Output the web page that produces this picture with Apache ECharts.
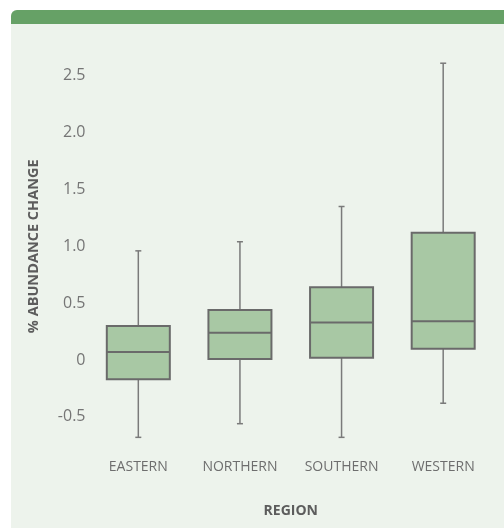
<!DOCTYPE html>
<html>
<head>
<meta charset="utf-8">
<script src="https://cdn.jsdelivr.net/npm/echarts@6/dist/echarts.min.js"></script>
<style>
  html, body { margin: 0; padding: 0; background: #ffffff; }
  #chart { width: 504px; height: 528px; }
</style>
</head>
<body>
<div id="chart"></div>
<script>
// Five-number summaries of abundance change per region
const regions = ['EASTERN', 'NORTHERN', 'SOUTHERN', 'WESTERN'];
const whiskerLow  = [-0.68, -0.56, -0.68, -0.38];
const quartile1   = [-0.17,  0.01,  0.02,  0.10];
const medians     = [ 0.07,  0.24,  0.33,  0.34];
const quartile3   = [ 0.30,  0.44,  0.64,  1.12];
const whiskerHigh = [ 0.96,  1.04,  1.35,  2.61];

const boxData = regions.map((r, i) => [i, whiskerLow[i], quartile1[i], medians[i], quartile3[i], whiskerHigh[i]]);

const chart = echarts.init(document.getElementById('chart'));

function renderBox(params, api) {
  const idx = api.value(0);
  const band = api.size([1, 0])[0];
  const half = band * 0.31;
  const cx = api.coord([idx, 0])[0];
  const y = (k) => api.coord([idx, api.value(k)])[1];
  const yLow = y(1), yQ1 = y(2), yMed = y(3), yQ3 = y(4), yHigh = y(5);
  const cap = 3;
  const whiskerStyle = { stroke: '#7a7a7a', lineWidth: 1.5 };
  return {
    type: 'group',
    children: [
      { type: 'line', shape: { x1: cx, y1: yHigh, x2: cx, y2: yQ3 }, style: whiskerStyle },
      { type: 'line', shape: { x1: cx, y1: yQ1, x2: cx, y2: yLow }, style: whiskerStyle },
      { type: 'line', shape: { x1: cx - cap, y1: yHigh, x2: cx + cap, y2: yHigh }, style: whiskerStyle },
      { type: 'line', shape: { x1: cx - cap, y1: yLow, x2: cx + cap, y2: yLow }, style: whiskerStyle },
      { type: 'rect', shape: { x: cx - half, y: yQ3, width: half * 2, height: yQ1 - yQ3 },
        style: { fill: '#a8c8a4', stroke: '#6a6a6a', lineWidth: 2 } },
      { type: 'line', shape: { x1: cx - half, y1: yMed, x2: cx + half, y2: yMed },
        style: { stroke: '#6a6a6a', lineWidth: 2 } }
    ]
  };
}

chart.setOption({
  animation: false,
  backgroundColor: '#ffffff',
  graphic: [
    { type: 'rect', left: 11, top: 10, z: -10,
      shape: { width: 493, height: 518, r: [6, 0, 0, 0] },
      style: { fill: '#edf3ec' } },
    { type: 'rect', left: 11, top: 10, z: -9,
      shape: { width: 493, height: 14, r: [6, 0, 0, 0] },
      style: { fill: '#66a166' } }
  ],
  grid: { left: 87.5, right: 10, top: 47.3, bottom: 82.7 },
  xAxis: {
    type: 'category',
    data: regions,
    name: 'REGION',
    nameLocation: 'middle',
    nameGap: 59,
    nameTextStyle: { fontFamily: 'Open Sans', fontWeight: 'bold', fontSize: 14, color: '#5c5c5c' },
    axisLine: { show: false },
    axisTick: { show: false },
    axisLabel: { margin: 15, fontFamily: 'Open Sans', fontSize: 14, color: '#6e6e6e' },
    splitLine: { show: false }
  },
  yAxis: {
    type: 'value',
    min: -0.75,
    max: 2.75,
    interval: 0.25,
    name: '% ABUNDANCE CHANGE',
    nameLocation: 'middle',
    nameGap: 46,
    nameTextStyle: { fontFamily: 'Open Sans', fontWeight: 'bold', fontSize: 14.5, color: '#5c5c5c' },
    axisLine: { show: false },
    axisTick: { show: false },
    splitLine: { show: false },
    axisLabel: {
      margin: 2,
      fontFamily: 'Open Sans',
      fontSize: 16,
      color: '#757575',
      formatter: (v) => {
        const r = Math.round(v * 100) / 100;
        if (Math.abs(r * 2 - Math.round(r * 2)) > 1e-6) return '';
        if (r === 2.75 || r === -0.75) return '';
        return r === 0 ? '0' : r.toFixed(1);
      }
    }
  },
  series: [{
    type: 'custom',
    renderItem: renderBox,
    encode: { x: 0, y: [1, 2, 3, 4, 5] },
    data: boxData
  }]
});
</script>
</body>
</html>
